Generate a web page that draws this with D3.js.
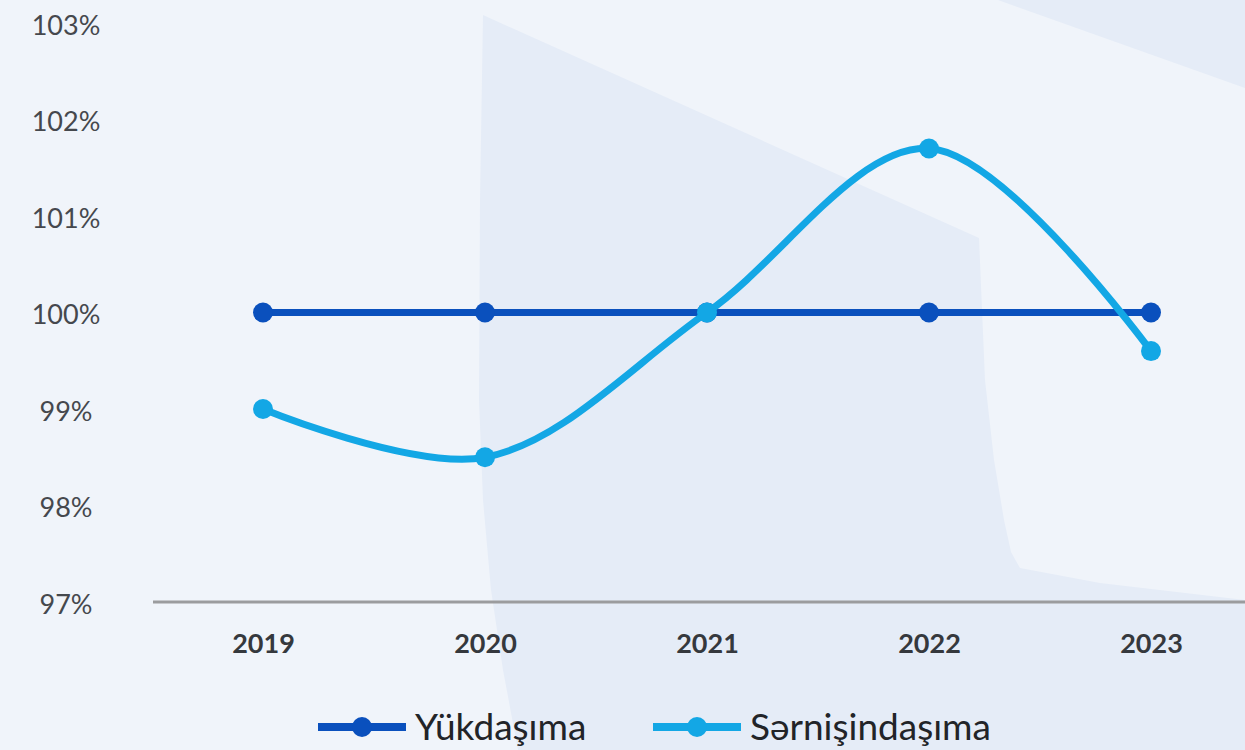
<!DOCTYPE html>
<html>
<head>
<meta charset="utf-8">
<script src="https://cdn.jsdelivr.net/npm/d3@7"></script>
<style>
  html, body { margin: 0; padding: 0; background: #f0f4fa; }
  svg { display: block; }
</style>
</head>
<body>
<script>
// chart data
var years = ["2019", "2020", "2021", "2022", "2023"];
var yukdasima = [100, 100, 100, 100, 100];
var sernisindasima = [99.0, 98.5, 100.0, 101.7, 99.6];
var yTicks = [97, 98, 99, 100, 101, 102, 103];
var seriesNames = ["Yükdaşıma", "Sərnişindaşıma"];
var seriesColors = ["#0a50bd", "#13a7e5"];

var w = 1245, h = 750;

var svg = d3.select("body").append("svg")
    .attr("width", w)
    .attr("height", h)
    .attr("class", "container");

// background decoration
svg.append("rect")
    .attr("width", w).attr("height", h)
    .style("fill", "#f0f4fa");

var bgShapes = [
  [[483,15],[979,238],[985,380],[994,460],[1004,520],[1011,552],[1020,568],[1100,583],[1245,600],[1245,750],[518,750],[503,670],[491,590],[483,500],[479,400],[480,200]],
  [[998,0],[1245,0],[1245,88]]
];
svg.selectAll(".bg")
    .data(bgShapes)
  .enter().append("polygon")
    .attr("class", "bg")
    .attr("points", function(d){ return d.map(function(p){ return p.join(","); }).join(" "); })
    .style("fill", "#e5ecf7");

// scales
var x = d3.scalePoint()
    .domain(years)
    .range([263, 1151]);

var y = d3.scaleLinear()
    .domain([97, 103])
    .range([602, 23]);

// y axis labels
var yAxis = svg.append("g")
    .attr("class", "y-axis")
    .attr("transform", "translate(66,0)")
    .call(d3.axisLeft(y).tickValues(yTicks).tickSize(0).tickFormat(function(d){ return d + "%"; }));
yAxis.select(".domain").remove();
yAxis.selectAll("text")
    .attr("x", 0)
    .attr("dy", "0.42em")
    .style("text-anchor", "middle")
    .style("font-family", "Lato, sans-serif")
    .style("font-size", "27px")
    .style("fill", "#45484d");

// baseline
svg.append("line")
    .attr("x1", 153).attr("x2", w)
    .attr("y1", y(97)).attr("y2", y(97))
    .style("stroke", "#9b9c9e")
    .style("stroke-width", 3);

// x axis labels
var xAxis = svg.append("g")
    .attr("class", "x-axis")
    .attr("transform", "translate(0," + y(97) + ")")
    .call(d3.axisBottom(x).tickSize(0).tickPadding(32));
xAxis.select(".domain").remove();
xAxis.selectAll("text")
    .style("font-family", "Lato, sans-serif")
    .style("font-weight", "700")
    .style("font-size", "27px")
    .style("fill", "#35383d");

// series
var series = [yukdasima, sernisindasima];
var curves = [d3.curveLinear, d3.curveCatmullRom];

series.forEach(function(vals, i){
  var pts = vals.map(function(v, j){ return { year: years[j], value: v }; });
  var line = d3.line()
      .x(function(d){ return x(d.year); })
      .y(function(d){ return y(d.value); })
      .curve(curves[i]);

  svg.append("path")
      .datum(pts)
      .attr("class", "line s" + i)
      .attr("d", line)
      .style("fill", "none")
      .style("stroke", seriesColors[i])
      .style("stroke-width", 7)
      .style("stroke-linecap", "round");

  svg.selectAll(".dot.s" + i)
      .data(pts)
    .enter().append("circle")
      .attr("class", "dot s" + i)
      .attr("cx", function(d){ return x(d.year); })
      .attr("cy", function(d){ return y(d.value); })
      .attr("r", 10)
      .style("fill", seriesColors[i]);
});

// legend
var legendX = [318, 653];
var legend = svg.selectAll(".legend")
    .data(seriesNames)
  .enter().append("g")
    .attr("class", "legend")
    .attr("transform", function(d, i){ return "translate(" + legendX[i] + ",727)"; });

legend.append("line")
    .attr("x1", 0).attr("x2", 88)
    .style("stroke", function(d, i){ return seriesColors[i]; })
    .style("stroke-width", 8);

legend.append("circle")
    .attr("cx", 44)
    .attr("r", 10)
    .style("fill", function(d, i){ return seriesColors[i]; });

legend.append("text")
    .attr("x", 97)
    .attr("y", 13)
    .text(function(d){ return d; })
    .style("font-family", "Lato, sans-serif")
    .style("font-size", "37px")
    .style("fill", "#222428");
</script>
</body>
</html>
